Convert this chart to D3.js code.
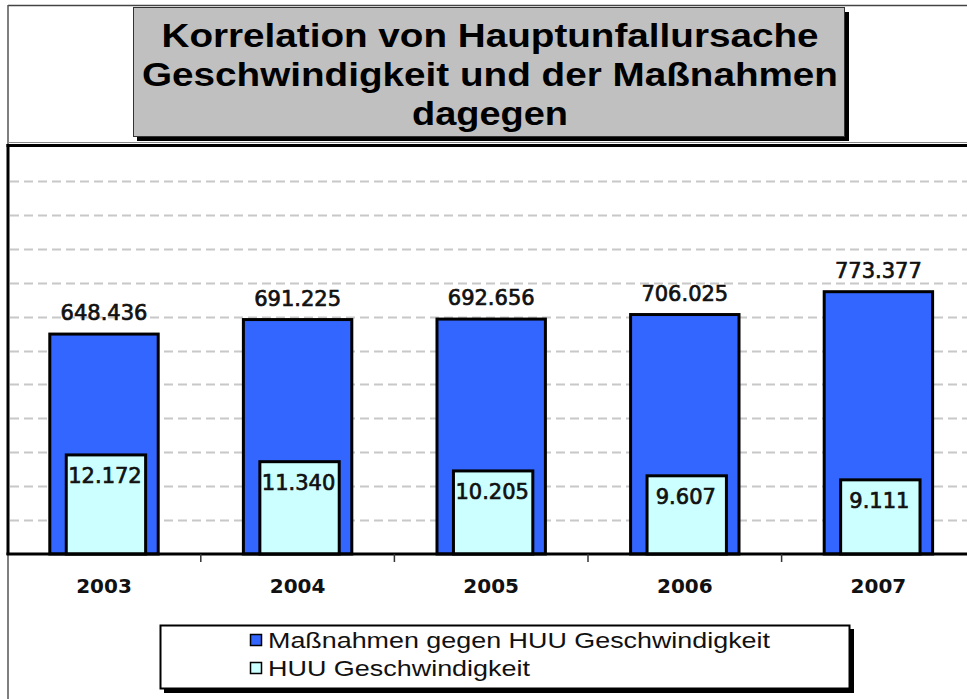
<!DOCTYPE html>
<html>
<head>
<meta charset="utf-8">
<script src="https://cdn.jsdelivr.net/npm/d3@7"></script>
<style>
  html, body { margin: 0; padding: 0; background: #fff; }
  svg { display: block; }
</style>
</head>
<body>
<svg id="chart" width="967" height="699"></svg>
<script>
const titleLines = ["Korrelation von Hauptunfallursache", "Geschwindigkeit und der Maßnahmen", "dagegen"];
const years = ["2003", "2004", "2005", "2006", "2007"];
const massnahmen = [648436, 691225, 692656, 706025, 773377];
const huu = [12172, 11340, 10205, 9607, 9111];
const seriesNames = ["Maßnahmen gegen HUU Geschwindigkeit", "HUU Geschwindigkeit"];
const seriesColors = ["#3366FF", "#CCFFFF"];
const primaryMax = 1200000;
const primaryStep = 100000;
const secondaryMax = 50000;

const svg = d3.select("#chart");
const fmt = d3.formatLocale({ decimal: ",", thousands: ".", grouping: [3], currency: ["", "€"] }).format(",d");

const plot = { left: 8, top: 146, right: 975, bottom: 554 };

// outer frame (thin)
svg.append("line").attr("x1", 8).attr("x2", 967).attr("y1", 5.5).attr("y2", 5.5)
  .attr("stroke", "#444").attr("stroke-width", 1.5);
svg.append("line").attr("x1", 8).attr("x2", 8).attr("y1", 5).attr("y2", 699)
  .attr("stroke", "#555").attr("stroke-width", 1.5);

const x = d3.scaleBand().domain(years).range([7.2, 975.2]).paddingInner(0).paddingOuter(0);
const y = d3.scaleLinear().domain([0, primaryMax]).range([plot.bottom, 147]);
const y2 = d3.scaleLinear().domain([0, secondaryMax]).range([plot.bottom, 147]);

// gridlines
const gridTicks = d3.range(primaryStep, primaryMax, primaryStep);
svg.append("g").selectAll("line").data(gridTicks).join("line")
  .attr("x1", 10).attr("x2", 967)
  .attr("y1", d => Math.round(y(d)) + 0.5).attr("y2", d => Math.round(y(d)) + 0.5)
  .attr("stroke", "#c8c8c8").attr("stroke-width", 2).attr("stroke-dasharray", "9,5");

// plot area borders
svg.append("line").attr("x1", 8).attr("x2", 967).attr("y1", 142.5).attr("y2", 142.5)
  .attr("stroke", "#888").attr("stroke-width", 1);
svg.append("line").attr("x1", 6.5).attr("x2", 967).attr("y1", 145.5).attr("y2", 145.5)
  .attr("stroke", "#000").attr("stroke-width", 3);
svg.append("line").attr("x1", 8).attr("x2", 8).attr("y1", 144).attr("y2", 555)
  .attr("stroke", "#000").attr("stroke-width", 3);

const bw = x.bandwidth();
// primary bars
svg.append("g").selectAll("rect").data(years).join("rect")
  .attr("x", (d) => x(d) + bw * 0.22)
  .attr("width", bw * 0.56)
  .attr("y", (d, i) => y(massnahmen[i]))
  .attr("height", (d, i) => plot.bottom - y(massnahmen[i]))
  .attr("fill", seriesColors[0]).attr("stroke", "#000").attr("stroke-width", 3);

// secondary bars
svg.append("g").selectAll("rect").data(years).join("rect")
  .attr("x", (d) => x(d) + bw * 0.305)
  .attr("width", bw * 0.41)
  .attr("y", (d, i) => y2(huu[i]))
  .attr("height", (d, i) => plot.bottom - y2(huu[i]))
  .attr("fill", seriesColors[1]).attr("stroke", "#000").attr("stroke-width", 3);

// baseline / x axis
const xAxis = d3.axisBottom(x).tickSize(0).tickPadding(0);
const gx = svg.append("g").attr("transform", `translate(0,${plot.bottom})`).call(xAxis);
gx.select(".domain").remove();
gx.selectAll("text")
  .attr("y", 39).attr("dy", 0)
  .attr("font-family", "DejaVu Sans").attr("font-weight", "bold").attr("font-size", 20)
  .attr("fill", "#111");
svg.append("line").attr("x1", 6.5).attr("x2", 967).attr("y1", plot.bottom).attr("y2", plot.bottom)
  .attr("stroke", "#000").attr("stroke-width", 3);
// category separator ticks
svg.append("g").selectAll("line").data(years.slice(1)).join("line")
  .attr("x1", d => x(d)).attr("x2", d => x(d))
  .attr("y1", plot.bottom).attr("y2", plot.bottom + 8)
  .attr("stroke", "#333").attr("stroke-width", 1.5);

// data labels
svg.append("g").selectAll("text").data(years).join("text")
  .attr("x", d => x(d) + bw / 2)
  .attr("y", (d, i) => y(massnahmen[i]) - 14)
  .attr("text-anchor", "middle")
  .attr("font-family", "DejaVu Sans").attr("font-size", 21)
  .attr("fill", "#111").attr("stroke", "#111").attr("stroke-width", 0.7)
  .text((d, i) => fmt(massnahmen[i]));
svg.append("g").selectAll("text").data(years).join("text")
  .attr("x", d => x(d) + bw / 2 + 1)
  .attr("y", (d, i) => y2(huu[i]) + 28)
  .attr("text-anchor", "middle")
  .attr("font-family", "DejaVu Sans").attr("font-size", 21)
  .attr("fill", "#111").attr("stroke", "#111").attr("stroke-width", 0.7)
  .text((d, i) => fmt(huu[i]));

// title box
svg.append("rect").attr("x", 137).attr("y", 12).attr("width", 712).attr("height", 129).attr("fill", "#000");
svg.append("rect").attr("x", 133.5).attr("y", 7.5).attr("width", 711).attr("height", 129)
  .attr("fill", "#c0c0c0").attr("stroke", "#333").attr("stroke-width", 1);
const titleWidths = [657, 696, 156];
svg.append("g").selectAll("text").data(titleLines).join("text")
  .attr("x", 490).attr("y", (d, i) => 47 + i * 39)
  .attr("text-anchor", "middle")
  .attr("font-family", "Liberation Sans").attr("font-weight", "bold").attr("font-size", 34)
  .attr("textLength", (d, i) => titleWidths[i]).attr("lengthAdjust", "spacingAndGlyphs")
  .attr("fill", "#000")
  .text(d => d);

// legend
svg.append("rect").attr("x", 164).attr("y", 629).attr("width", 690).attr("height", 64).attr("fill", "#000");
svg.append("rect").attr("x", 160.5).attr("y", 625.5).attr("width", 689).attr("height", 63)
  .attr("fill", "#fff").attr("stroke", "#000").attr("stroke-width", 2);
const legendWidths = [502, 262];
const lg = svg.append("g").selectAll("g").data(seriesNames).join("g")
  .attr("transform", (d, i) => `translate(250,${634 + i * 28})`);
lg.append("rect").attr("x", 0.5).attr("y", 0.5).attr("width", 11).attr("height", 11)
  .attr("fill", (d, i) => seriesColors[i]).attr("stroke", "#000").attr("stroke-width", 1.5);
lg.append("text").attr("x", 18).attr("y", 14)
  .attr("font-family", "Liberation Sans").attr("font-size", 22)
  .attr("textLength", (d, i) => legendWidths[i]).attr("lengthAdjust", "spacingAndGlyphs")
  .attr("fill", "#111")
  .text(d => d);
</script>
</body>
</html>
